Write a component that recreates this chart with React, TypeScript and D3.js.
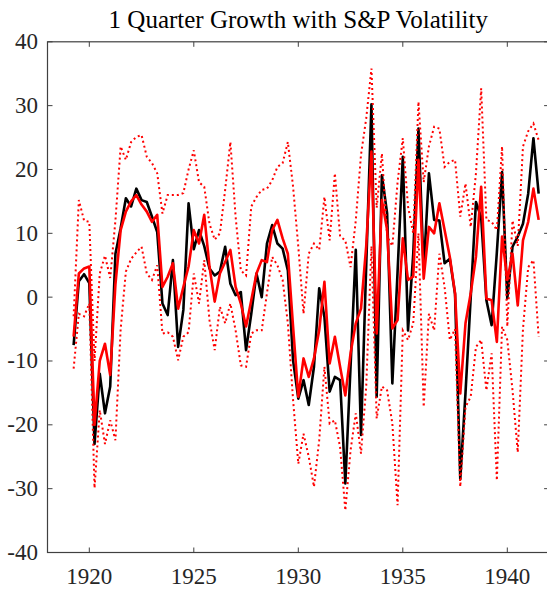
import * as d3 from 'd3';

// quarterly observations, first one at 1919.25
const startYear = 1919.25;

const actual = [
  -7.5, 2.5, 3.6, 2.2, -23, -12, -18.2, -14, 6.8, 10.8,
  15.5, 14.2, 17, 15.2, 14.9, 12.6, 10.2, -1, -2.8, 5.8,
  -7.8, -2, 14.7, 7.5, 10.5, 8, 4.5, 3.4, 4, 7.9,
  2.1, 0.3, 0.8, -8.3, -2.6, 3.7, 0, 8.4, 11.3, 8.4,
  7.6, 4.2, -9.9, -15.9, -13, -16.9, -10.9, 1.4, -3.1, -14.8,
  -12.5, -13, -29.2, -10.9, 7.4, -21.6, 5, 30.2, -15.6, 19.1,
  13.1, -13.5, 4, 22, -5.2, 6.8, 26.4, 4.2, 19.4, 12.1,
  12, 5.3, 6, 0.5, -28.5, -15, 0, 14.9, 12.5, -0.5,
  -4.4, 7, 19.6, -0.2, 7.9, 9.5, 11.5, 16.2, 24.9, 16.2,
];

const fitted = [
  -6.2, 3.7, 4.5, 4.8, -20, -10, -7.3, -12.2, 2, 10.5,
  13.4, 15, 16, 14.5, 13.4, 11.8, 12.9, 1.6, 3.2, 5.3,
  -1.8, 1.6, 4.8, 10.5, 8.4, 12.9, 4.8, -0.7, 3.7, 5.5,
  7.4, 1.6, -1, -4.6, -0.5, 3.7, 5.8, 5.5, 10.5, 12.1,
  9.2, 6.8, -4.6, -15.6, -9.6, -12.5, -9.6, -5.2, 2.4, -10.4,
  -6.2, -10.9, -15.4, -8.8, -4.1, -1.8, 8, 22.8, -5.7, 15.2,
  10.5, -4.9, -3.6, 9.2, 2.7, 3.2, 21.5, 2.9, 11, 10,
  14.7, 10.5, 6.3, 0.6, -15.1, -4.1, 0.6, 6.3, 17.3, -0.2,
  -0.5, -7, 9.5, 2.7, 6.8, -1.3, 8.9, 11.8, 17, 12.1,
];

const upper = [
  -3, 15.2, 12, 11.8, -10, 3.7, 6.5, 3, 12, 23.6,
  21.5, 24.3, 25.1, 25.4, 22, 21, 19.4, 13.1, 16, 16,
  16, 16.3, 20, 23, 18, 17.3, 11.5, 9, 10, 16.8,
  24.3, 12.6, 4.2, 3.4, 14.2, 15.7, 16.8, 17, 18.3, 20.4,
  21, 24.3, 17.3, 7.9, -2.6, 6.8, 8.4, 7.4, 15.7, 8.9,
  19.4, 9.5, 8.9, 4.7, 12, 22.3, 28, 35.8, 14, 22.5,
  9.5, 8, 18, 24.9, 14.2, 10, 30.6, 18, 23.6, 26.7,
  26.4, 20.4, 21.2, 21.5, 12.6, 17.8, 11, 19.4, 32.7, 12.1,
  11.8, 10.5, 23.6, -4.6, 12, 8, 23.6, 26, 27.2, 24.6,
];

const lower = [
  -11.2, -2.6, -3, -1, -29.9, -17.7, -23, -19.3, -22.4, -5,
  4, 6, 7, 7.9, 3.7, 2.7, 5, -5.7, -5.5, -6.2,
  -9.9, -6.2, -5.5, 3.7, -1, 5.8, -3.6, -8.3, -1.5, -4.1,
  -1, -5.2, -10.7, -10.9, -5.7, -5.2, -5.2, 0.6, 6.3, 5,
  2.7, -4.1, -16.1, -26.1, -21.4, -25, -29.7, -22.4, -10.9, -19.8,
  -19.3, -23.5, -33.4, -24, -18.2, -24.5, -14, 8, -19, -14,
  -14.6, -19.8, -32.6, -5.2, -6.7, -4.1, 10, -17.2, -2.6, -5.2,
  6.8, 1.6, -6.7, -5, -29.7, -17.2, -15.6, -7.8, -6.7, -14.6,
  -8.8, -28.7, -4.6, -6.7, -14.6, -24.3, -5, 4.7, 5.8, -6.2,
];

const xTicks = [1920, 1925, 1930, 1935, 1940];
const yTicks = [-40, -30, -20, -10, 0, 10, 20, 30, 40];
const title = '1 Quarter Growth with S&P Volatility';

const W = 547;
const H = 590;
const font = '"Liberation Serif", "Times New Roman", serif';

export default function App() {
  const x = d3.scaleLinear().domain([1918, 1942]).range([47.5, 549.1]);
  const y = d3.scaleLinear().domain([-40, 40]).range([552.5, 41.8]);

  const years = actual.map((_, i) => startYear + i * 0.25);
  const line = d3
    .line<number>()
    .x((_, i) => x(years[i]))
    .y((d) => y(d));

  const [x0, x1] = x.range();
  const [yb, yt] = y.range();
  const axisColor = '#404040';

  return (
    <svg
      width={W}
      height={H}
      style={{ position: 'absolute', left: 0, top: 0, background: '#fff' }}
      fontFamily={font}
    >
      <rect x={0} y={0} width={W} height={H} fill="#fff" />

      {/* series */}
      <path d={line(actual) || ''} fill="none" stroke="#000" strokeWidth={2.6} strokeLinejoin="round" />
      <path d={line(fitted) || ''} fill="none" stroke="#ff0000" strokeWidth={2.6} strokeLinejoin="round" />
      <path d={line(upper) || ''} fill="none" stroke="#ff0000" strokeWidth={2} strokeDasharray="2 3" />
      <path d={line(lower) || ''} fill="none" stroke="#ff0000" strokeWidth={2} strokeDasharray="2 3" />

      {/* box */}
      <rect x={x0} y={yt} width={x1 - x0} height={yb - yt} fill="none" stroke={axisColor} strokeWidth={1.2} />

      {xTicks.map((t) => (
        <g key={'x' + t}>
          <line x1={x(t)} x2={x(t)} y1={yb} y2={yb - 5} stroke={axisColor} />
          <line x1={x(t)} x2={x(t)} y1={yt} y2={yt + 5} stroke={axisColor} />
          <text x={x(t)} y={584} textAnchor="middle" fontSize={23} fill="#262626">
            {t}
          </text>
        </g>
      ))}

      {yTicks.map((t) => (
        <g key={'y' + t}>
          <line x1={x0} x2={x0 + 5} y1={y(t)} y2={y(t)} stroke={axisColor} />
          <line x1={x1} x2={x1 - 5} y1={y(t)} y2={y(t)} stroke={axisColor} />
          <text x={38} y={y(t) + 7.5} textAnchor="end" fontSize={23} fill="#262626">
            {t}
          </text>
        </g>
      ))}

      <text x={(x0 + x1) / 2} y={28} textAnchor="middle" fontSize={25} fill="#000">
        {title}
      </text>
    </svg>
  );
}
